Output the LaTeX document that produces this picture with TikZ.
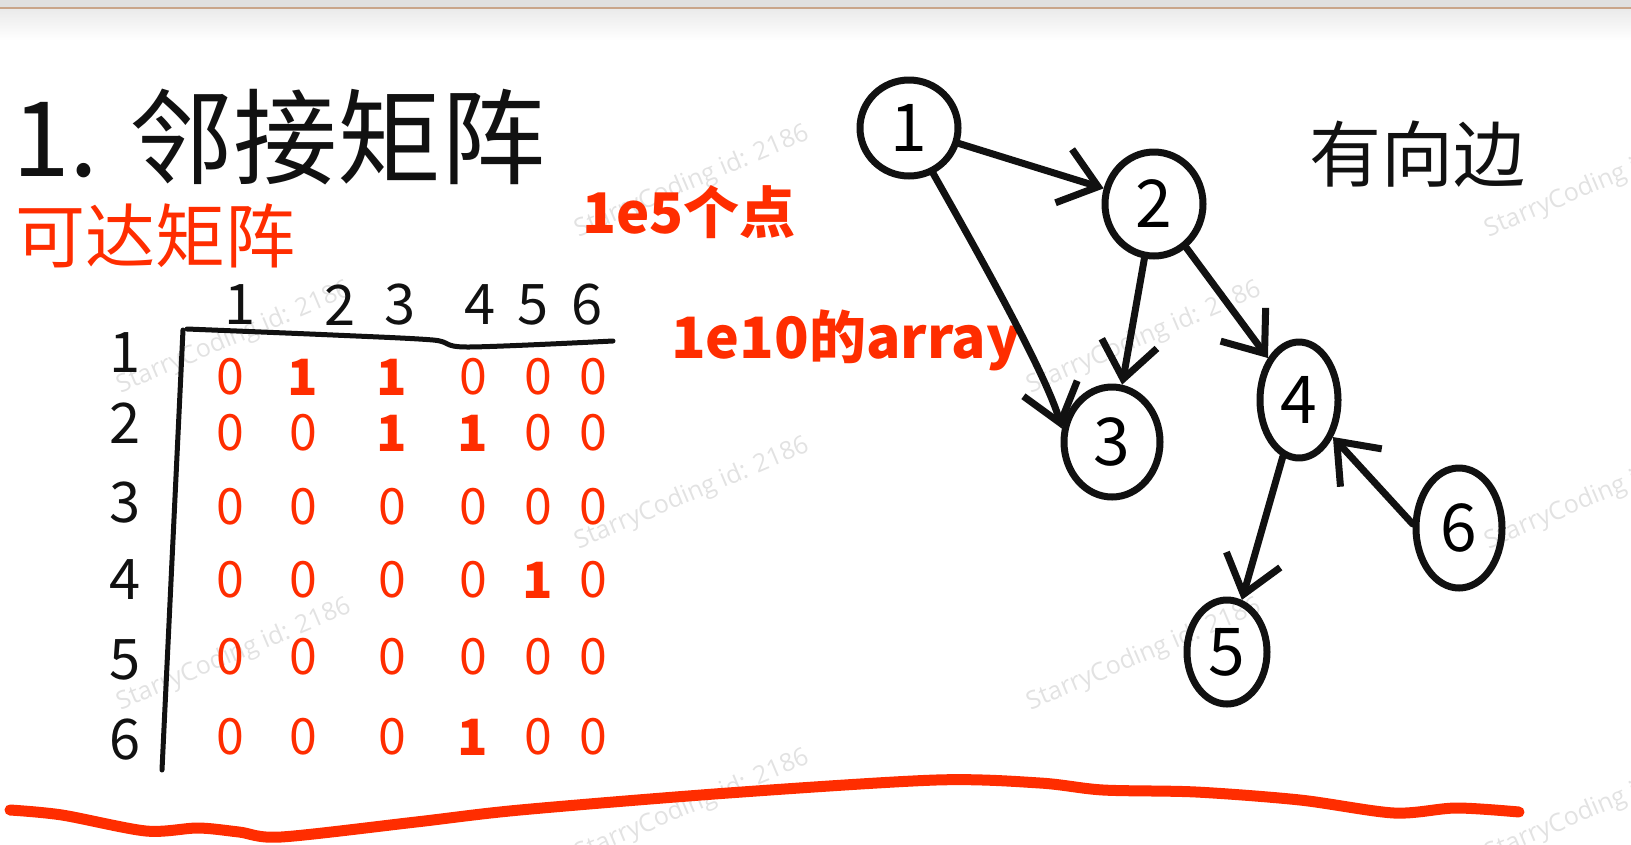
\documentclass[tikz,border=0pt]{standalone}
\usepackage{fontspec}
\setmainfont{Noto Sans CJK SC}
\newfontfamily\wmfont{Open Sans}
\usetikzlibrary{arrows.meta, shapes.geometric}
\definecolor{inkred}{HTML}{FF2D00}
\definecolor{inkblack}{HTML}{111111}
\definecolor{wmgrey}{HTML}{E2E2E2}
\definecolor{barline}{HTML}{C9A58A}
\tikzset{
  every picture/.style={x=1pt, y=-1pt, line cap=round, line join=round},
  ink/.style={draw=inkblack, line width=5pt},
  hand/.style={font=\fontsize{#1}{#1}\selectfont, inner sep=0pt, text=inkblack},
  redtxt/.style={hand=#1, text=inkred},
  vtx/.style={ellipse, draw=inkblack, line width=7pt, inner sep=0pt, font=\fontsize{66}{66}\selectfont},
  edgearr/.style={-{Straight Barb[length=36pt, width=56pt]}, draw=inkblack, line width=7pt},
  lbl/.style={hand=56},
  val0/.style={redtxt=50},
  val1/.style={redtxt=50, font=\bfseries\fontsize{50}{50}\selectfont},
  wm/.style={font=\wmfont\fontsize{25}{25}\selectfont, text=wmgrey, rotate=23},
}

\begin{document}
\begin{tikzpicture}
  \useasboundingbox (0,0) rectangle (1631,844);
  % window edge
  \fill[black!12] (0,0) rectangle (1631,7);
  \shade[top color=black!8, bottom color=white] (0,9) rectangle (1631,40);
  \draw[barline, line width=1.5pt] (0,8) -- (1631,8);
  % watermark
  \begin{scope}
    \clip (0,0) rectangle (1631,844);
    \foreach \wx/\wy [count=\i] in {692/182, 1602/182, 234/338, 1144/338, 692/494, 1602/494, 234/655, 1144/655, 692/806, 1602/806}
      \node[wm] (wm\i) at (\wx,\wy) {StarryCoding id: 2186};
  \end{scope}

  % titles
  \node[hand=104, anchor=west] (title) at (12,137) {1. 邻接矩阵};
  \node[redtxt=70] (reach) at (156,236) {可达矩阵};
  \node[redtxt=56, font=\bfseries\fontsize{56}{56}\selectfont] (npts) at (689,212) {1e5个点};
  \node[redtxt=58, font=\bfseries\fontsize{57}{57}\selectfont] (arr) at (846,340) {1e10的array};
  \node[hand=72] (dir) at (1417,154) {有向边};

  % matrix
  \draw[ink, line width=5pt] plot[smooth] coordinates {(187,329) (333,335) (433,340) (467,347) (613,341)};
  \draw[ink, line width=5pt] (183,330) -- (162,770);
  \foreach \n/\x in {1/240,2/340,3/400,4/480,5/533,6/587}
    \node[lbl] (c\n) at (\x,305) {\n};
  \foreach \n/\y in {1/353,2/423,3/503,4/580,5/660,6/740}
    \node[lbl] (r\n) at (125,\y) {\n};
  \foreach \vals [count=\r] in {{0,1,1,0,0,0},{0,0,1,1,0,0},{0,0,0,0,0,0},{0,0,0,0,1,0},{0,0,0,0,0,0},{0,0,0,1,0,0}} {
    \foreach \v [count=\c] in \vals {
      \pgfmathsetmacro{\cx}{{230,303,392,473,538,593}[\c-1]}
      \pgfmathsetmacro{\cy}{{377,433,507,580,657,737}[\r-1]}
      \node[val\v] (m\r\c) at (\cx,\cy) {\v};
    }
  }

  % graph
  \node[vtx, minimum width=98pt, minimum height=96pt] (v1) at (909,128) {1};
  \node[vtx, minimum width=98pt, minimum height=104pt] (v2) at (1154,204) {2};
  \node[vtx, minimum width=96pt, minimum height=110pt] (v3) at (1112,442) {3};
  \node[vtx, minimum width=78pt, minimum height=116pt] (v4) at (1299,400) {4};
  \node[vtx, minimum width=80pt, minimum height=104pt] (v5) at (1227,652) {5};
  \node[vtx, minimum width=86pt, minimum height=120pt] (v6) at (1459,528) {6};
  \draw[edgearr] (v1) -- (v2);
  \draw[edgearr] (v1.-62) .. controls (965,230) and (1045,370) .. (v3.165);
  \draw[edgearr] (v2) -- (v3);
  \draw[edgearr] (v2) -- (v4);
  \draw[edgearr] (v4) -- (v5);
  \draw[edgearr] (v6.175) -- (v4);

  % underline
  \draw[inkred, line width=11pt] plot[smooth] coordinates {(10,810) (62,815) (146,831) (198,828) (239,832) (281,837) (416,822) (520,810) (728,793) (936,780) (1040,783) (1103,790) (1196,792) (1300,800) (1394,813) (1456,808) (1519,812)};
\end{tikzpicture}
\end{document}
